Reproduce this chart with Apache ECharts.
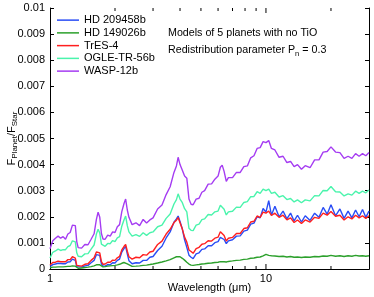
<!DOCTYPE html>
<html>
<head>
<meta charset="utf-8">
<script src="https://cdn.jsdelivr.net/npm/echarts@6/dist/echarts.min.js"></script>
<style>html,body{margin:0;padding:0;background:#fff}#c{width:374px;height:297px}</style>
</head>
<body>
<div id="c"></div>
<script>
// Wavelength grid (micron)
const wavelengths = [1.00,1.03,1.06,1.09,1.12,1.15,1.18,1.21,1.24,1.27,1.29,1.31,1.33,1.35,1.40,1.45,1.50,1.55,1.60,1.64,
1.67,1.70,1.73,1.76,1.80,1.85,1.90,1.95,2.00,2.05,2.10,2.15,2.20,2.24,2.28,2.32,2.40,2.50,2.60,2.70,
2.80,2.90,3.00,3.15,3.30,3.45,3.60,3.75,3.85,3.92,4.00,4.10,4.20,4.30,4.40,4.50,4.60,4.75,4.90,5.05,
5.20,5.40,5.60,5.80,6.00,6.15,6.27,6.40,6.55,6.70,7.0,7.3,7.6,7.9,8.2,8.5,8.8,9.1,9.4,9.7,
10.0,10.3,10.6,11.0,11.5,12.0,12.5,13.0,13.5,14.0,14.6,15.2,16.0,16.8,17.6,18.4,19.2,20.0,21.0,22.0,
23.0,24.0,25.0,26.0,27.0,28.0,29.0,30.0];

const hd209458b = [0.00010,0.00017,0.00019,0.00022,0.00021,0.00020,0.00020,0.00027,0.00028,0.00038,0.00037,0.00033,0.00009,0.00005,0.00007,0.00012,0.00014,0.00024,0.00033,0.00055,
0.00060,0.00052,0.00020,0.00011,0.00011,0.00017,0.00016,0.00024,0.00023,0.00033,0.00038,0.00065,0.00078,0.00087,0.00058,0.00032,0.00020,0.00024,0.00023,0.00033,
0.00033,0.00045,0.00048,0.00071,0.00087,0.00119,0.00142,0.00179,0.00192,0.00203,0.00182,0.00153,0.00112,0.00083,0.00053,0.00045,0.00040,0.00058,0.00062,0.00075,
0.00077,0.00089,0.00089,0.00101,0.00105,0.00121,0.00122,0.00113,0.00097,0.00108,0.00112,0.00126,0.00127,0.00145,0.00149,0.00172,0.00176,0.00200,0.00196,0.00232,
0.00218,0.00262,0.00206,0.00240,0.00200,0.00222,0.00192,0.00214,0.00184,0.00206,0.00180,0.00204,0.00186,0.00214,0.00198,0.00236,0.00210,0.00246,0.00204,0.00230,
0.00194,0.00222,0.00196,0.00226,0.00200,0.00228,0.00198,0.00222];

const hd149026b = [0.00005,0.00007,0.00007,0.00008,0.00008,0.00008,0.00009,0.00010,0.00010,0.00012,0.00012,0.00011,0.00005,0.00003,0.00004,0.00006,0.00007,0.00009,0.00012,0.00016,
0.00018,0.00016,0.00010,0.00008,0.00009,0.00011,0.00012,0.00013,0.00014,0.00016,0.00018,0.00022,0.00025,0.00026,0.00020,0.00013,0.00010,0.00011,0.00012,0.00014,
0.00015,0.00017,0.00019,0.00023,0.00027,0.00031,0.00036,0.00043,0.00047,0.00050,0.00047,0.00041,0.00034,0.00026,0.00019,0.00015,0.00014,0.00016,0.00017,0.00019,
0.00020,0.00022,0.00023,0.00025,0.00026,0.00028,0.00030,0.00028,0.00027,0.00029,0.00031,0.00033,0.00034,0.00037,0.00038,0.00041,0.00042,0.00045,0.00046,0.00050,
0.00056,0.00052,0.00051,0.00050,0.00048,0.00049,0.00046,0.00048,0.00045,0.00046,0.00044,0.00046,0.00045,0.00048,0.00047,0.00050,0.00049,0.00052,0.00049,0.00051,
0.00048,0.00051,0.00049,0.00052,0.00050,0.00051,0.00049,0.00051];

const tres4 = [0.00015,0.00025,0.00026,0.00030,0.00028,0.00028,0.00028,0.00036,0.00036,0.00047,0.00044,0.00042,0.00014,0.00009,0.00011,0.00018,0.00020,0.00033,0.00043,0.00065,
0.00070,0.00062,0.00028,0.00018,0.00019,0.00026,0.00026,0.00034,0.00033,0.00043,0.00048,0.00073,0.00086,0.00094,0.00068,0.00047,0.00038,0.00045,0.00043,0.00055,
0.00053,0.00065,0.00068,0.00094,0.00107,0.00134,0.00152,0.00178,0.00187,0.00197,0.00177,0.00153,0.00122,0.00103,0.00073,0.00067,0.00060,0.00078,0.00083,0.00095,
0.00097,0.00108,0.00107,0.00118,0.00122,0.00143,0.00148,0.00128,0.00107,0.00118,0.00121,0.00136,0.00136,0.00155,0.00158,0.00180,0.00183,0.00203,0.00198,0.00218,
0.00214,0.00222,0.00205,0.00214,0.00198,0.00206,0.00188,0.00196,0.00178,0.00188,0.00174,0.00188,0.00180,0.00198,0.00194,0.00214,0.00206,0.00220,0.00202,0.00206,
0.00188,0.00200,0.00192,0.00206,0.00196,0.00204,0.00194,0.00204];

const ogle56b = [0.00042,0.00064,0.00069,0.00076,0.00071,0.00074,0.00074,0.00086,0.00090,0.00108,0.00107,0.00104,0.00062,0.00049,0.00047,0.00058,0.00059,0.00076,0.00092,0.00134,
0.00152,0.00138,0.00095,0.00088,0.00087,0.00098,0.00097,0.00109,0.00105,0.00119,0.00124,0.00164,0.00188,0.00203,0.00166,0.00142,0.00126,0.00132,0.00125,0.00139,
0.00129,0.00139,0.00142,0.00162,0.00168,0.00194,0.00211,0.00249,0.00266,0.00288,0.00268,0.00254,0.00231,0.00219,0.00156,0.00148,0.00147,0.00168,0.00172,0.00189,
0.00192,0.00209,0.00207,0.00219,0.00222,0.00244,0.00242,0.00229,0.00207,0.00219,0.00221,0.00237,0.00236,0.00255,0.00258,0.00277,0.00278,0.00296,0.00290,0.00306,
0.00300,0.00306,0.00290,0.00294,0.00276,0.00281,0.00266,0.00270,0.00257,0.00265,0.00254,0.00265,0.00261,0.00281,0.00280,0.00301,0.00300,0.00316,0.00296,0.00295,
0.00280,0.00288,0.00283,0.00298,0.00290,0.00298,0.00292,0.00303];

const wasp12b = [0.00078,0.00108,0.00118,0.00126,0.00118,0.00124,0.00114,0.00134,0.00140,0.00168,0.00164,0.00166,0.00105,0.00082,0.00080,0.00094,0.00093,0.00114,0.00135,0.00190,
0.00218,0.00198,0.00136,0.00115,0.00114,0.00130,0.00126,0.00142,0.00140,0.00162,0.00170,0.00220,0.00250,0.00268,0.00226,0.00198,0.00170,0.00177,0.00166,0.00190,
0.00176,0.00188,0.00196,0.00230,0.00245,0.00285,0.00315,0.00370,0.00395,0.00428,0.00400,0.00378,0.00356,0.00348,0.00268,0.00248,0.00246,0.00268,0.00271,0.00294,
0.00300,0.00325,0.00326,0.00344,0.00356,0.00390,0.00398,0.00374,0.00336,0.00350,0.00350,0.00370,0.00370,0.00392,0.00395,0.00426,0.00434,0.00462,0.00465,0.00488,
0.00484,0.00492,0.00462,0.00456,0.00428,0.00432,0.00408,0.00412,0.00392,0.00400,0.00382,0.00396,0.00388,0.00418,0.00418,0.00448,0.00450,0.00468,0.00448,0.00446,
0.00424,0.00432,0.00424,0.00442,0.00432,0.00442,0.00434,0.00446];

const seriesNames = ['HD 209458b','HD 149026b','TrES-4','OGLE-TR-56b','WASP-12b'];
const seriesValues = [hd209458b, hd149026b, tres4, ogle56b, wasp12b];
const seriesColors = ['#2a4df5','#2ca02c','#ff1f1f','#4af4ac','#a53cf2'];
const xMajorTicks = [10];
const xMinorTicks = [2,3,4,5,6,7,8,9,20];

const FONT = '"Liberation Sans", Arial, sans-serif';
const chart = echarts.init(document.getElementById('c'), null, {renderer:'canvas'});

function tickSeries(vals, len) {
  return {
    type:'custom', xAxisIndex:0, yAxisIndex:0, silent:true, clip:false, z:10,
    data: vals.map(v => [v, 0]),
    renderItem: function(params, api) {
      const b = api.coord([api.value(0), 0]);
      const t = api.coord([api.value(0), 0.01]);
      return {type:'group', children:[
        {type:'line', shape:{x1:b[0], y1:b[1], x2:b[0], y2:b[1]-len}, style:{stroke:'#000', lineWidth:1}},
        {type:'line', shape:{x1:t[0], y1:t[1], x2:t[0], y2:t[1]+len}, style:{stroke:'#000', lineWidth:1}}
      ]};
    }
  };
}

const lineSeries = seriesNames.map((name, i) => ({
  name: name, type:'line', symbol:'none', showSymbol:false, animation:false,
  data: wavelengths.map((w, j) => [w, seriesValues[i][j]]),
  lineStyle:{color:seriesColors[i], width:1.4},
  itemStyle:{color:seriesColors[i]}
}));

chart.setOption({
  animation:false,
  backgroundColor:'#fff',
  textStyle:{fontFamily:FONT},
  grid:{left:50, right:5, top:8, bottom:28, containLabel:false, outerBoundsMode:'none'},
  legend:{
    data: seriesNames, orient:'vertical', left:57, top:14, padding:0,
    icon:'rect', itemWidth:22, itemHeight:1.5, itemGap:0.5,
    textStyle:{fontSize:11, color:'#000', fontFamily:FONT, lineHeight:12.25}
  },
  xAxis:[{
    type:'log', logBase:10, min:1, max:30,
    name:'Wavelength (μm)', nameLocation:'middle', nameGap:13, nameMoveOverlap:false,
    nameTextStyle:{fontSize:11, color:'#000', fontFamily:FONT},
    axisLine:{show:true, lineStyle:{color:'#000', width:1}},
    axisTick:{show:false},
    splitLine:{show:false},
    axisLabel:{fontSize:11, color:'#000', margin:4, fontFamily:FONT,
      formatter: v => (Math.abs(v-1)<1e-9 || Math.abs(v-10)<1e-9) ? String(Math.round(v)) : ''}
  },{
    type:'log', logBase:10, min:1, max:30, position:'top',
    axisLine:{show:true, lineStyle:{color:'#000', width:1}},
    axisTick:{show:false}, axisLabel:{show:false}, splitLine:{show:false}
  }],
  yAxis:[{
    type:'value', min:0, max:0.01, interval:0.001,
    name:'{f|F}{s|Planet}{f|/F}{s|Star}', nameLocation:'middle', nameGap:31, nameRotate:90, nameMoveOverlap:false,
    nameTextStyle:{color:'#000', fontFamily:FONT, rich:{
      f:{fontSize:11, color:'#000', fontFamily:FONT, lineHeight:14},
      s:{fontSize:8, color:'#000', fontFamily:FONT, lineHeight:14, padding:[6,0,0,0]}
    }},
    axisLine:{show:true, lineStyle:{color:'#000', width:1}},
    axisTick:{show:true, inside:true, length:4, lineStyle:{color:'#000'}},
    splitLine:{show:false},
    axisLabel:{fontSize:11, color:'#000', margin:5, fontFamily:FONT}
  },{
    type:'value', min:0, max:0.01, interval:0.001, position:'right',
    axisLine:{show:true, lineStyle:{color:'#000', width:1}},
    axisTick:{show:true, inside:true, length:4, lineStyle:{color:'#000'}},
    axisLabel:{show:false}, splitLine:{show:false}
  }],
  graphic:[
    {type:'text', left:168, top:28, style:{text:'Models of 5 planets with no TiO', fontSize:10.7, fontFamily:FONT, fill:'#000'}},
    {type:'text', left:168, top:45, style:{text:'Redistribution parameter P{n|n} = 0.3', fontSize:10.7, fontFamily:FONT, fill:'#000',
      rich:{n:{fontSize:7.5, fontFamily:FONT, fill:'#000', padding:[6,0,0,0]}}}}
  ],
  series: lineSeries.concat([tickSeries(xMinorTicks, 3), tickSeries(xMajorTicks, 5)])
});
</script>
</body>
</html>
